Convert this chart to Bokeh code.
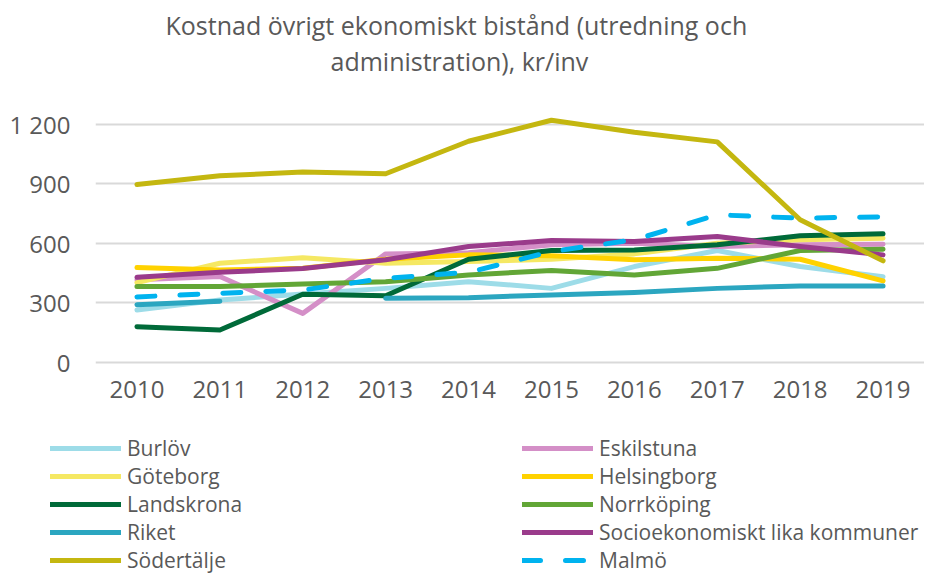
import math
from bokeh.plotting import figure
from bokeh.layouts import column
from bokeh.models import Range1d, FixedTicker, Legend, LegendItem, Title
from bokeh.embed import file_html
from bokeh.resources import INLINE

nan = math.nan

years = [2010, 2011, 2012, 2013, 2014, 2015, 2016, 2017, 2018, 2019]
burlov = [263, 313, 344, 372, 406, 372, 482, 563, 482, 431]
eskilstuna = [415, 432, 246, 546, 552, 592, 600, 583, 592, 595]
goteborg = [401, 499, 527, 499, 507, 519, 546, 600, 617, 625]
helsingborg = [477, 465, 473, 519, 541, 536, 516, 524, 519, 410]
landskrona = [179, 162, 342, 335, 519, 563, 566, 592, 637, 647]
norrkoping = [381, 381, 394, 406, 440, 462, 440, 473, 563, 570]
riket = [290, 307, nan, 322, 325, 339, 351, 372, 384, 384]
socio = [428, 453, 472, 516, 583, 613, 608, 634, 583, 541]
sodertalje = [896, 940, 959, 950, 1114, 1220, 1160, 1111, 718, 511]
malmo = [329, 347, 364, 423, 453, 558, 617, 743, 726, 733]

y_ticks = [0, 300, 600, 900, 1200]
y_tick_labels = ["0", "300", "600", "900", "1 200"]

series = [
    ("Burlöv", burlov, "#9ddce8", "solid"),
    ("Eskilstuna", eskilstuna, "#d48fc7", "solid"),
    ("Göteborg", goteborg, "#f5e863", "solid"),
    ("Helsingborg", helsingborg, "#ffd200", "solid"),
    ("Landskrona", landskrona, "#006a39", "solid"),
    ("Norrköping", norrkoping, "#62a636", "solid"),
    ("Riket", riket, "#2ba6c0", "solid"),
    ("Socioekonomiskt lika kommuner", socio, "#9a3b8b", "solid"),
    ("Södertälje", sodertalje, "#c4b710", "solid"),
    ("Malmö", malmo, "#00b3ef", "18 25"),
]

FONT = "Open Sans"
GREY = "#595959"
W = 924

p = figure(width=W, height=416, output_backend="svg", toolbar_location=None,
           x_range=Range1d(2009.5, 2019.5), y_range=Range1d(-12, 1350),
           min_border_left=95, min_border_right=0, min_border_top=94,
           min_border_bottom=52)
p.outline_line_color = None
p.background_fill_color = "white"
p.frame_align = False

# spacer between plot area and the two title lines
p.add_layout(Title(text=" ", text_font_size="4px", standoff=10), "above")
p.add_layout(Title(text="administration), kr/inv", text_font=FONT,
                   text_font_size="25px", text_color=GREY, text_font_style="normal",
                   align="left", offset=235, standoff=0), "above")
p.add_layout(Title(text="Kostnad övrigt ekonomiskt bistånd (utredning och", text_font=FONT,
                   text_font_size="25px", text_color=GREY, text_font_style="normal",
                   align="left", offset=70, standoff=0), "above")

p.xaxis.ticker = FixedTicker(ticks=years)
p.yaxis.ticker = FixedTicker(ticks=y_ticks)
p.yaxis.major_label_overrides = {t: l for t, l in zip(y_ticks, y_tick_labels)}
for ax in (p.xaxis, p.yaxis):
    ax.axis_line_color = None
    ax.major_tick_line_color = None
    ax.minor_tick_line_color = None
    ax.major_tick_out = 0
    ax.major_tick_in = 0
    ax.minor_tick_out = 0
    ax.minor_tick_in = 0
    ax.major_label_text_font = FONT
    ax.major_label_text_font_size = "24px"
    ax.major_label_text_color = GREY
p.yaxis.major_label_standoff = 25
p.xaxis.major_label_standoff = 16
p.xgrid.grid_line_color = None
p.ygrid.ticker = FixedTicker(ticks=y_ticks)
p.ygrid.grid_line_color = "#d9d9d9"
p.ygrid.grid_line_width = 2

# legend panel (separate figure below the chart)
lg = figure(width=W, height=158, output_backend="svg", toolbar_location=None,
            x_axis_type=None, y_axis_type=None,
            min_border_left=0, min_border_right=0, min_border_top=0, min_border_bottom=0)
lg.outline_line_color = None
lg.xgrid.grid_line_color = None
lg.ygrid.grid_line_color = None
lg.frame_align = False

items = []
for name, vals, color, dash in series:
    p.line(years, vals, line_color=color, line_width=5, line_dash=dash,
           line_cap="round", line_join="round")
    r = lg.line(x=[nan], y=[nan], line_color=color, line_width=5, line_dash=dash,
                line_cap="round", line_join="round")
    items.append(LegendItem(label=name, renderers=[r]))

legend = Legend(items=items, orientation="horizontal", ncols=2,
                location=(50, 0), glyph_width=71, glyph_height=28,
                label_height=28, label_width=395, label_standoff=6, spacing=0,
                padding=0, margin=0, border_line_color=None,
                background_fill_alpha=0, label_text_font=FONT,
                label_text_font_size="21px", label_text_color=GREY)
lg.add_layout(legend, "center")

open("out.html", "w").write(file_html(column(p, lg, spacing=0), INLINE))
